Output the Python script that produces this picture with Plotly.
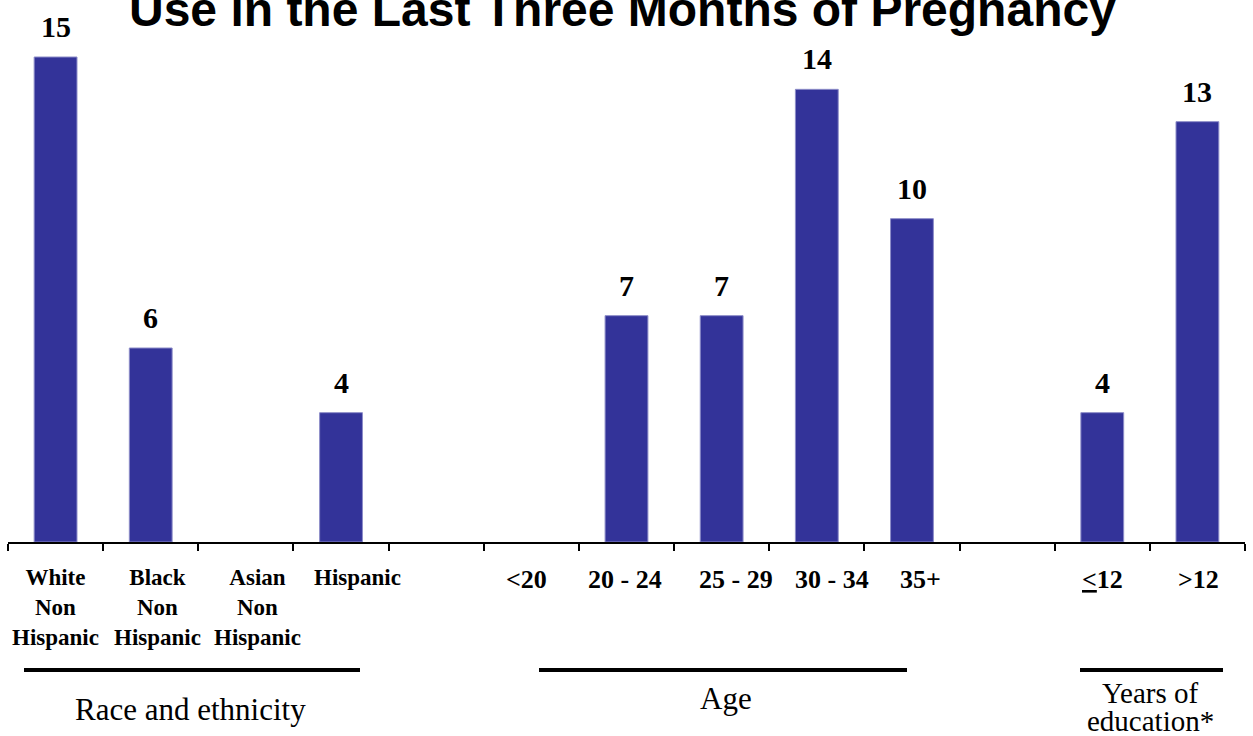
import plotly.graph_objects as go

# Categories (one slot each along the axis; blank slots separate the groups)
tick_labels = [
    "White<br>Non<br>Hispanic", "Black<br>Non<br>Hispanic", "Asian<br>Non<br>Hispanic",
    "Hispanic", "", "&lt;20", "20 - 24", "25 - 29", "30 - 34", "35+", "",
    "<u>&lt;</u>12", "&gt;12",
]
values = [15, 6, None, 4, None, None, 7, 7, 14, 10, None, 4, 13]

groups = ["Race and ethnicity", "Age", "Years of<br>education*"]
title_text = "Use in the Last Three Months of Pregnancy"

# ---- layout constants (pixels) ----
W, H = 1253, 736
L, R = 8, 8
T, B = 8, 194
PLOT_W = W - L - R
PLOT_H = H - T - B
UNIT_PX = 32.333          # pixels per percent
Y_MAX = PLOT_H / UNIT_PX

BAR_COLOR = "#333399"
SERIF = "Times New Roman, Liberation Serif, serif"
SANS = "Arial, Liberation Sans, sans-serif"

positions = list(range(len(tick_labels)))


def py_to_paper(py):
    return (H - B - py) / PLOT_H


def px_to_paper(px):
    return (px - L) / PLOT_W


fig = go.Figure()
fig.add_trace(go.Bar(
    x=positions, y=values, width=0.45,
    marker=dict(color=BAR_COLOR, line=dict(color="#8c8cc8", width=1)),
    hoverinfo="skip",
))

annotations = []

# value labels above the bars
for x, v in zip(positions, values):
    if v is None:
        continue
    annotations.append(dict(
        x=x, y=v, xref="x", yref="y", text=f"<b>{v}</b>", showarrow=False,
        xanchor="center", yanchor="bottom", yshift=12,
        font=dict(family=SERIF, size=30, color="black"),
    ))

# category labels under the axis
label_shift = [0, 7, 12, 16, 0, -5, -2, 14, 15, 9, 0, 0, 1]
label_size = [23, 23, 23, 23, 26, 26, 26, 26, 26, 26, 26, 26, 26]
for x, lab, dx, fs in zip(positions, tick_labels, label_shift, label_size):
    if not lab:
        continue
    annotations.append(dict(
        x=x, y=py_to_paper(563), xref="x", yref="paper", text=f"<b>{lab}</b>",
        showarrow=False, xanchor="center", yanchor="top", xshift=dx, align="center",
        font=dict(family=SERIF, size=fs, color="black"),
    ))

# group captions
group_pos = [(190, 709), (726, 698)]
for (gx, gy), g in zip(group_pos, groups[:2]):
    annotations.append(dict(
        x=px_to_paper(gx), y=py_to_paper(gy), xref="paper", yref="paper",
        text=g, showarrow=False, xanchor="center", yanchor="middle",
        font=dict(family=SERIF, size=31, color="black"),
    ))
for line_text, gy in zip(groups[2].split("<br>"), (693, 721)):
    annotations.append(dict(
        x=px_to_paper(1150), y=py_to_paper(gy), xref="paper", yref="paper",
        text=line_text, showarrow=False, xanchor="center", yanchor="middle",
        font=dict(family=SERIF, size=29, color="black"),
    ))

# title (runs off the top edge)
annotations.append(dict(
    x=px_to_paper(622), y=py_to_paper(38), xref="paper", yref="paper",
    text=f"<b>{title_text}</b>", showarrow=False,
    xanchor="center", yanchor="bottom",
    font=dict(family=SANS, size=48, color="black"),
))

# group underlines
shapes = []
for x0, x1 in [(24, 360), (539, 907), (1080, 1223)]:
    shapes.append(dict(
        type="line", xref="paper", yref="paper",
        x0=px_to_paper(x0), x1=px_to_paper(x1),
        y0=py_to_paper(670), y1=py_to_paper(670),
        line=dict(color="black", width=4),
    ))

fig.update_layout(
    width=W, height=H,
    margin=dict(l=L, r=R, t=T, b=B, pad=0),
    paper_bgcolor="white", plot_bgcolor="white",
    showlegend=False,
    annotations=annotations,
    shapes=shapes,
    xaxis=dict(
        range=[-0.5, len(tick_labels) - 0.5],
        tickvals=[k - 0.5 for k in range(len(tick_labels) + 1)],
        showticklabels=False, ticks="outside", ticklen=7, tickwidth=2,
        tickcolor="black", showline=True, linecolor="black", linewidth=2,
        showgrid=False, zeroline=False, fixedrange=True,
    ),
    yaxis=dict(
        range=[0, Y_MAX], visible=False, showgrid=False, zeroline=False,
        fixedrange=True,
    ),
)

fig.write_html("out.html")
